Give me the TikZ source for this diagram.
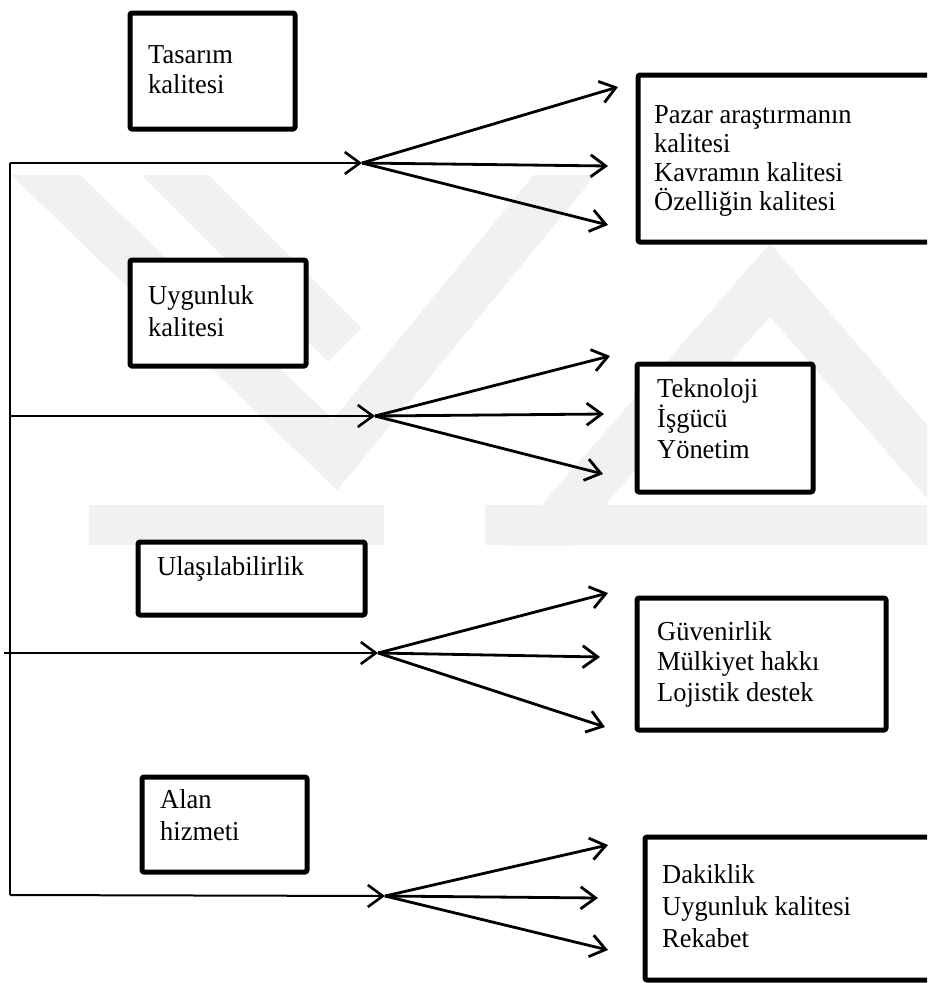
\documentclass[tikz,border=0pt]{standalone}
\usepackage{fontspec}
\setmainfont[FakeStretch=0.965]{Liberation Serif}
\usetikzlibrary{arrows.meta}

\definecolor{wmgray}{HTML}{F1F1F1}

\tikzset{
  box/.style={draw, fill=white, line width=5pt, rounded corners=1.5pt, inner sep=0pt,
              anchor=north west, line join=round},
  txt/.style={anchor=base west, inner sep=0pt,
              font=\fontsize{27.4}{30}\selectfont},
  feed/.style={line width=2pt, -{Straight Barb[length=15pt,width=22pt,line width=2.6pt]}},
  branch/.style={line width=2.8pt, -{Straight Barb[length=15pt,width=22pt,line width=2.8pt]}},
  spine/.style={line width=2pt},
  wm/.style={draw=wmgray, line width=48pt, line join=miter},
}

\begin{document}
\begin{tikzpicture}[x=1pt, y=-1pt]
\useasboundingbox (0,0) rectangle (927,983);
\clip (0,0) rectangle (927,983);

% faint background emblem
\begin{scope}
  \clip (0,175) rectangle (927,545);
  \draw[wm] (20,150) -- (335,455) -- (585,150);
  \draw[wm] (150,150) -- (345,345);
  \draw[wm] (490,600) -- (770,280) -- (960,500);
  \fill[wmgray] (89,505) rectangle (384,545);
  \fill[wmgray] (485,505) rectangle (927,545);
\end{scope}

% left-hand category boxes
\node[box, minimum width=165pt, minimum height=116pt] (tasarim) at (127.5,10.5) {};
\node[box, minimum width=176pt, minimum height=106pt] (uygunluk) at (127.5,257.5) {};
\node[box, minimum width=227pt, minimum height=73pt]  (ulasilabilirlik) at (135.5,539.5) {};
\node[box, minimum width=165pt, minimum height=95pt]  (alan) at (139.5,774.5) {};

\node[txt] (tasarimA) at (148,63) {Tasarım};
\node[txt] (tasarimB) at (148,93) {kalitesi};
\node[txt] (uygunlukA) at (148,304) {Uygunluk};
\node[txt] (uygunlukB) at (148,336) {kalitesi};
\node[txt] (ulasA) at (157,575) {Ulaşılabilirlik};
\node[txt] (alanA) at (160,808) {Alan};
\node[txt] (alanB) at (160,840) {hizmeti};

% right-hand detail boxes
\node[box, minimum width=320pt, minimum height=167pt] (r1) at (635.5,72.5) {};
\node[box, minimum width=176pt, minimum height=128pt] (r2) at (634.5,361.5) {};
\node[box, minimum width=249pt, minimum height=132pt] (r3) at (634.5,595.5) {};
\node[box, minimum width=320pt, minimum height=143pt] (r4) at (642.5,834.5) {};

\node[txt] (r1a) at (654,123) {Pazar araştırmanın};
\node[txt] (r1b) at (654,152) {kalitesi};
\node[txt] (r1c) at (654,181) {Kavramın kalitesi};
\node[txt] (r1d) at (654,210) {Özelliğin kalitesi};

\node[txt] (r2a) at (657,397) {Teknoloji};
\node[txt] (r2b) at (657,427) {İşgücü};
\node[txt] (r2c) at (657,458) {Yönetim};

\node[txt] (r3a) at (657,640) {Güvenirlik};
\node[txt] (r3b) at (657,670) {Mülkiyet hakkı};
\node[txt] (r3c) at (657,701) {Lojistik destek};

\node[txt] (r4a) at (662,883) {Dakiklik};
\node[txt] (r4b) at (662,915) {Uygunluk kalitesi};
\node[txt] (r4c) at (662,947) {Rekabet};

% spine and feeder lines
\coordinate (s1) at (10,163);
\coordinate (s2) at (10,416);
\coordinate (s3) at (4,653);
\coordinate (s4) at (10,895);
\coordinate (o1) at (362,163);
\coordinate (o2) at (375,416);
\coordinate (o3) at (378,653);
\coordinate (o4) at (385,896);

\draw[spine] (s1) -- (s4);
\draw[feed] (s1) -- (o1);
\draw[feed] (s2) -- (o2);
\draw[feed] (s3) -- (o3);
\draw[feed] (s4) -- (o4);

% fan-out arrows
\coordinate (a1u) at (618,87);  \coordinate (a1m) at (608,166); \coordinate (a1l) at (608,225);
\coordinate (a2u) at (610,356); \coordinate (a2m) at (604,414); \coordinate (a2l) at (603,474);
\coordinate (a3u) at (608,593); \coordinate (a3m) at (600,657); \coordinate (a3l) at (605,727);
\coordinate (a4u) at (608,845); \coordinate (a4m) at (598,898); \coordinate (a4l) at (608,950);

\foreach \i in {1,2,3,4}{
  \draw[branch] (o\i) -- (a\i u);
  \draw[branch] (o\i) -- (a\i m);
  \draw[branch] (o\i) -- (a\i l);
}
\end{tikzpicture}
\end{document}
